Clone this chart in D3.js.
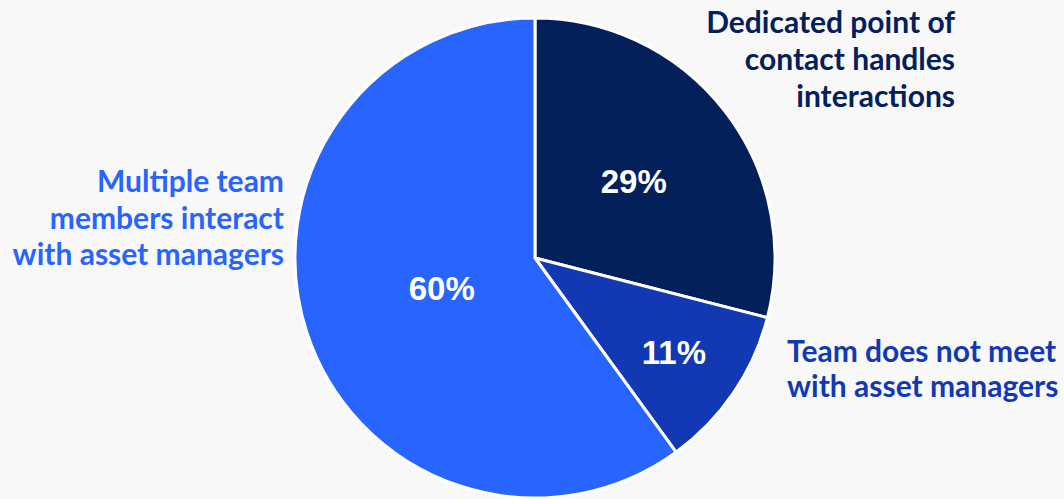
<!DOCTYPE html>
<html>
<head>
<meta charset="utf-8">
<script src="https://cdn.jsdelivr.net/npm/d3@7/dist/d3.min.js"></script>
<style>
  html, body { margin: 0; padding: 0; background: #f8f8f8; }
  svg { display: block; }
</style>
</head>
<body>
<svg id="chart" width="1064" height="499"></svg>
<script>
// Survey shares: how the team interacts with asset managers
const categories = [
  "Dedicated point of contact handles interactions",
  "Team does not meet with asset managers",
  "Multiple team members interact with asset managers"
];
const values = [29, 11, 60];
const valueLabels = ["29%", "11%", "60%"];
const labelLines = [
  ["Dedicated point of", "contact handles", "interactions"],
  ["Team does not meet", "with asset managers"],
  ["Multiple team", "members interact", "with asset managers"]
];

const colors = ["#03205b", "#1239b3", "#2864fe"];

const width = 1064, height = 499;
const cx = 535, cy = 258, radius = 240;

const svg = d3.select("#chart");
const g = svg.append("g").attr("transform", `translate(${cx},${cy})`);

const pie = d3.pie().sort(null).value(d => d.value);
const data = categories.map((c, i) => ({ category: c, value: values[i], i }));
const arcs = pie(data);

const arc = d3.arc().innerRadius(0).outerRadius(radius);

g.selectAll("path.slice")
  .data(arcs)
  .join("path")
  .attr("class", "slice")
  .attr("d", arc)
  .attr("fill", d => colors[d.data.i])
  .attr("stroke", "#ffffff")
  .attr("stroke-width", 3)
  .attr("stroke-linejoin", "round");

// Percentage labels inside each slice, at slice-specific radii
const labelRadius = [125, 168, 98];
g.selectAll("text.pct")
  .data(arcs)
  .join("text")
  .attr("class", "pct")
  .attr("transform", d => {
    const r = labelRadius[d.data.i];
    const a = (d.startAngle + d.endAngle) / 2;
    return `translate(${Math.sin(a) * r},${-Math.cos(a) * r})`;
  })
  .attr("text-anchor", "middle")
  .attr("dy", "0.36em")
  .attr("fill", "#ffffff")
  .style("font-family", "'Liberation Sans', Arial, sans-serif")
  .style("font-weight", "bold")
  .style("font-size", "33px")
  .text(d => valueLabels[d.data.i]);

// Category labels outside the pie
const catLayout = [
  { x: 955, y: 33, anchor: "end", lh: 37 },
  { x: 787, y: 362, anchor: "start", lh: 35 },
  { x: 284, y: 192, anchor: "end", lh: 36.5 }
];

svg.selectAll("text.cat")
  .data(categories)
  .join("text")
  .attr("class", "cat")
  .attr("x", (d, i) => catLayout[i].x)
  .attr("y", (d, i) => catLayout[i].y)
  .attr("text-anchor", (d, i) => catLayout[i].anchor)
  .attr("fill", (d, i) => colors[i])
  .style("font-family", "Lato, 'Open Sans', sans-serif")
  .style("font-weight", "bold")
  .style("font-size", "30px")
  .each(function (d, i) {
    const t = d3.select(this);
    labelLines[i].forEach((line, k) => {
      t.append("tspan")
        .attr("x", catLayout[i].x)
        .attr("y", catLayout[i].y + k * catLayout[i].lh)
        .text(line);
    });
  });
</script>
</body>
</html>
